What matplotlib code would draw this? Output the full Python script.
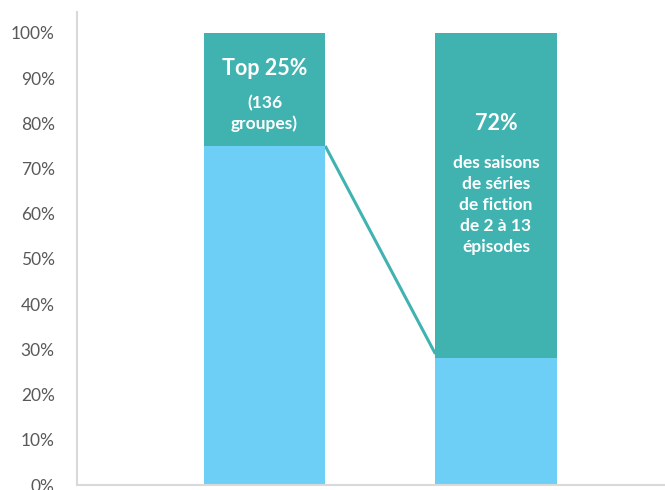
import numpy as np
import matplotlib.pyplot as plt

plt.rcParams['font.family'] = ['Lato', 'DejaVu Sans']

# Deux colonnes empilées (en part du total)
colonnes = ['Groupes', 'Saisons']
part_bas = [0.75, 0.28]
part_haut = [0.25, 0.72]
graduations = np.arange(0, 1.01, 0.1)

bleu = '#6DCFF6'
turquoise = '#40B3B1'
largeur = 0.524

fig = plt.figure(figsize=(6.65, 4.9), dpi=100)
ax = fig.add_axes([77 / 665, 5 / 490, 1 - 77 / 665, 473 / 490])

x = np.arange(len(colonnes))
ax.bar(x, part_bas, width=largeur, color=bleu, zorder=2)
ax.bar(x, part_haut, bottom=part_bas, width=largeur, color=turquoise, zorder=2)

# Trait de liaison entre les deux colonnes
ax.plot([x[0] + largeur / 2, x[1] - largeur / 2], [part_bas[0], part_bas[1] + 0.01],
        color=turquoise, lw=2.2, zorder=1, solid_capstyle='butt')

# Textes dans les colonnes
ax.text(x[0], 0.922, 'Top 25%', color='white', fontsize=15.5, fontweight='bold',
        ha='center', va='center')
ax.text(x[0], 0.822, '(136\ngroupes)', color='white', fontsize=12.5, fontweight='bold',
        ha='center', va='center', linespacing=1.3)
ax.text(x[1], 0.80, '72%', color='white', fontsize=15.5, fontweight='bold',
        ha='center', va='center')
ax.text(x[1], 0.62, 'des saisons\nde séries\nde fiction\nde 2 à 13\népisodes',
        color='white', fontsize=12.5, fontweight='bold', ha='center', va='center',
        linespacing=1.38)

ax.set_xlim(-0.81, 1.73)
ax.set_ylim(0, 1.046)
ax.set_yticks(graduations)
ax.set_yticklabels([f'{int(round(v * 100))}%' for v in graduations],
                   fontsize=12.5, color='#595959')
ax.set_xticks([])
ax.tick_params(axis='y', length=0, pad=16)

for s in ['top', 'right']:
    ax.spines[s].set_visible(False)
for s in ['left', 'bottom']:
    ax.spines[s].set_color('#D9D9D9')
    ax.spines[s].set_linewidth(1.5)

fig.savefig('out.png', dpi=100)
